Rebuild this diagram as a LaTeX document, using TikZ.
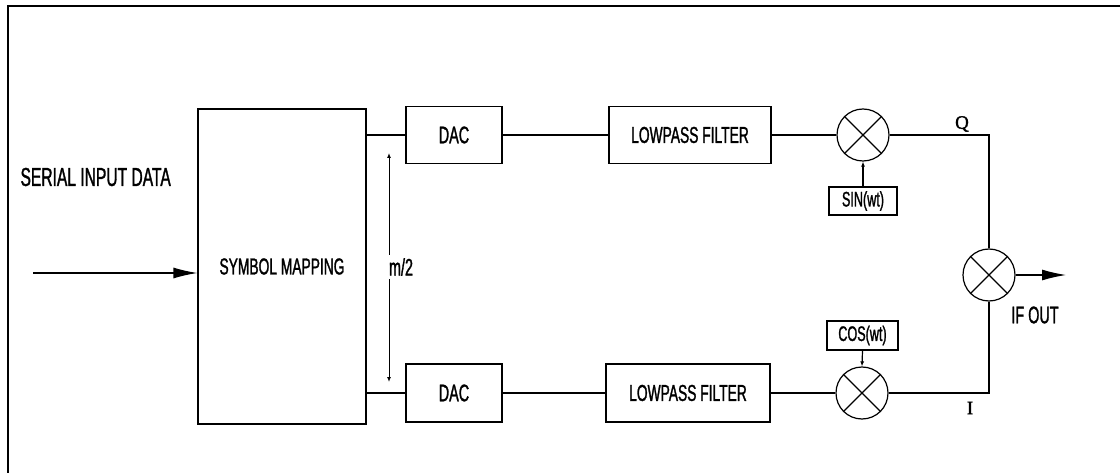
\documentclass[tikz,border=0pt]{standalone}
\usepackage{fontspec}
\setmainfont{Liberation Sans}[FakeStretch=0.6,FakeBold=1.2]
\newfontfamily\seriffont{Liberation Serif}[FakeBold=1.5]
\usetikzlibrary{arrows.meta}
\tikzset{
  lw/.style={line width=1.2pt},
  blk/.style={draw, lw, inner sep=0pt, align=center},
  mixer/.style={draw, lw, circle, minimum size=52pt, inner sep=0pt},
  fnt/.style={font=\fontsize{#1}{#1}\selectfont},
  bigtip/.style={-{Latex[length=24pt,width=11pt]}},
  smalltip/.style={-{Latex[length=5pt,width=4pt]}},
}
\newcommand{\xmark}[1]{\draw[lw] (#1.north east) -- (#1.south west) (#1.north west) -- (#1.south east);}
\begin{document}
\begin{tikzpicture}[x=1pt,y=-1pt]
\useasboundingbox (0,0) rectangle (1120,473);
\draw[lw] (8,473) -- (8,6) -- (1120,6);

\node[blk, fnt=23, minimum width=168pt, minimum height=315pt] (sm) at (282,266.5) {SYMBOL MAPPING};
\node[blk, fnt=24, minimum width=96pt, minimum height=57pt] (dq) at (454,135) {DAC};
\node[blk, fnt=24, minimum width=96pt, minimum height=58pt] (di) at (454,393) {DAC};
\node[blk, fnt=23, minimum width=162pt, minimum height=57pt] (lq) at (690,135) {LOWPASS FILTER};
\node[blk, fnt=23, minimum width=164pt, minimum height=58pt] (li) at (688,393) {LOWPASS FILTER};
\node[mixer] (mq) at (863,135) {};
\node[mixer] (mi) at (862,393) {};
\node[mixer] (mo) at (989,275) {};
\xmark{mq}\xmark{mi}\xmark{mo}
\node[blk, fnt=21, minimum width=68pt, minimum height=28pt] (sn) at (863,201) {SIN(wt)};
\node[blk, fnt=21, minimum width=71pt, minimum height=29pt] (cs) at (862.5,335.5) {COS(wt)};

\node[fnt=26, anchor=west] (ser) at (17,177) {SERIAL INPUT DATA};
\node[fnt=24] (m2) at (401,267) {m/2};
\node[fnt=24] (ifo) at (1035,315) {IF OUT};
\node[font=\seriffont\fontsize{19}{19}\selectfont] (ql) at (962,124) {Q};
\node[font=\seriffont\fontsize{19}{19}\selectfont] (il) at (970,408) {I};

\coordinate (in) at (33,273);
\coordinate (out) at (1066,275);
\coordinate (ma) at (389,153);
\coordinate (mb) at (389,382);

\draw[lw, bigtip] (in) -- (sm.west |- in);
\draw[lw] (sm.east |- dq.west) -- (dq.west);
\draw[lw] (sm.east |- di.west) -- (di.west);
\draw[lw] (dq.east) -- (lq.west);
\draw[lw] (di.east) -- (li.west);
\draw[lw] (lq.east) -- (mq.west);
\draw[lw] (li.east) -- (mi.west);
\draw[lw, smalltip] (sn.north) -- (mq.south);
\draw[lw, smalltip] (cs.south) -- (mi.north);
\draw[lw] (mq.east) -| (mo.north);
\draw[lw] (mi.east) -| (mo.south);
\draw[lw, bigtip] (mo.east) -- (out);
\draw[line width=1pt, smalltip] (ma |- m2.north) -- (ma);
\draw[line width=1pt, smalltip] (mb |- m2.south) -- (mb);
\end{tikzpicture}
\end{document}
